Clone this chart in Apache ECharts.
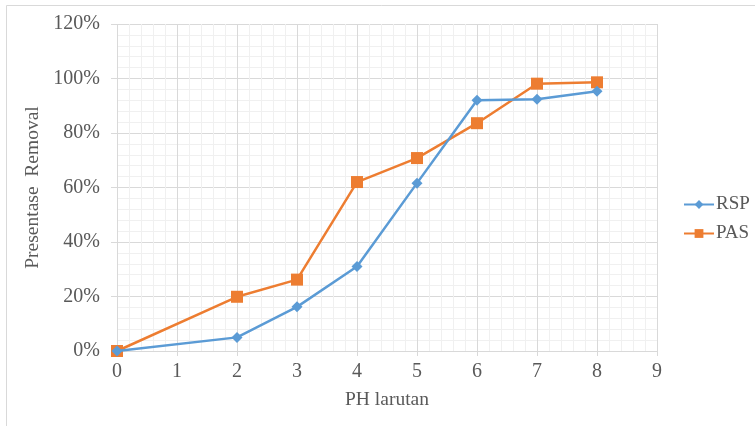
<!DOCTYPE html>
<html>
<head>
<meta charset="utf-8">
<script src="https://cdn.jsdelivr.net/npm/echarts@6/dist/echarts.min.js"></script>
<style>
  html, body { margin: 0; padding: 0; background: #fff; }
  #chart { width: 755px; height: 426px; }
</style>
</head>
<body>
<div id="chart"></div>
<script>
// pH values tested
const phValues = [0, 2, 3, 4, 5, 6, 7, 8];
// Removal percentage per pH
const rspRemoval = [0, 5.0, 16.2, 31.0, 61.6, 92.0, 92.4, 95.3];
const pasRemoval = [0, 19.9, 26.2, 62.0, 70.8, 83.6, 98.1, 98.6];
const seriesNames = ['RSP', 'PAS'];

const serif = "'Liberation Serif', 'Times New Roman', serif";
const textGray = '#595959';
const majorGrid = '#d9d9d9';
const minorGrid = '#f0f0f0';

const chart = echarts.init(document.getElementById('chart'), null, { renderer: 'canvas' });

chart.setOption({
  animation: false,
  backgroundColor: '#fff',
  graphic: [{
    type: 'rect',
    shape: { x: 6.5, y: 5.5, width: 780, height: 460 },
    style: { fill: 'none', stroke: '#d9d9d9', lineWidth: 1 },
    silent: true,
    z: -10
  }],
  grid: { left: 117, right: 98, top: 24, bottom: 75 },
  legend: {
    orient: 'vertical',
    left: 678,
    top: 190,
    itemWidth: 30,
    itemHeight: 11,
    itemGap: 10,
    textStyle: { fontFamily: serif, fontSize: 19, color: textGray, padding: [0, 0, 0, -3] },
    data: seriesNames
  },
  xAxis: {
    type: 'value',
    min: 0, max: 9, interval: 1,
    name: 'PH larutan',
    nameLocation: 'middle',
    nameGap: 39,
    nameTextStyle: { fontFamily: serif, fontSize: 19.5, color: textGray },
    axisLine: { show: true, lineStyle: { color: majorGrid, width: 1 } },
    axisTick: { show: true, length: 5, lineStyle: { color: majorGrid } },
    axisLabel: { fontFamily: serif, fontSize: 20, color: textGray, margin: 11 },
    splitLine: { show: true, lineStyle: { color: majorGrid, width: 1 } },
    minorTick: { show: false, splitNumber: 5 },
    minorSplitLine: { show: true, lineStyle: { color: minorGrid, width: 1 } }
  },
  yAxis: {
    type: 'value',
    min: 0, max: 120, interval: 20,
    name: 'Presentase  Removal',
    nameLocation: 'middle',
    nameGap: 67,
    nameTextStyle: { fontFamily: serif, fontSize: 19.5, color: textGray },
    axisLine: { show: false },
    axisTick: { show: true, length: 6, lineStyle: { color: majorGrid } },
    axisLabel: { fontFamily: serif, fontSize: 20, color: textGray, margin: 17, formatter: '{value}%' },
    splitLine: { show: true, lineStyle: { color: majorGrid, width: 1 } },
    minorTick: { show: false, splitNumber: 5 },
    minorSplitLine: { show: true, lineStyle: { color: minorGrid, width: 1 } }
  },
  series: [
    {
      name: seriesNames[0],
      type: 'line',
      data: phValues.map((x, i) => [x, rspRemoval[i]]),
      symbol: 'diamond',
      symbolSize: 11,
      itemStyle: { color: '#5B9BD5' },
      lineStyle: { color: '#5B9BD5', width: 2.5 },
      z: 3
    },
    {
      name: seriesNames[1],
      type: 'line',
      data: phValues.map((x, i) => [x, pasRemoval[i]]),
      symbol: 'rect',
      symbolSize: 12,
      itemStyle: { color: '#ED7D31' },
      lineStyle: { color: '#ED7D31', width: 2.5 },
      z: 2
    }
  ]
});
</script>
</body>
</html>
